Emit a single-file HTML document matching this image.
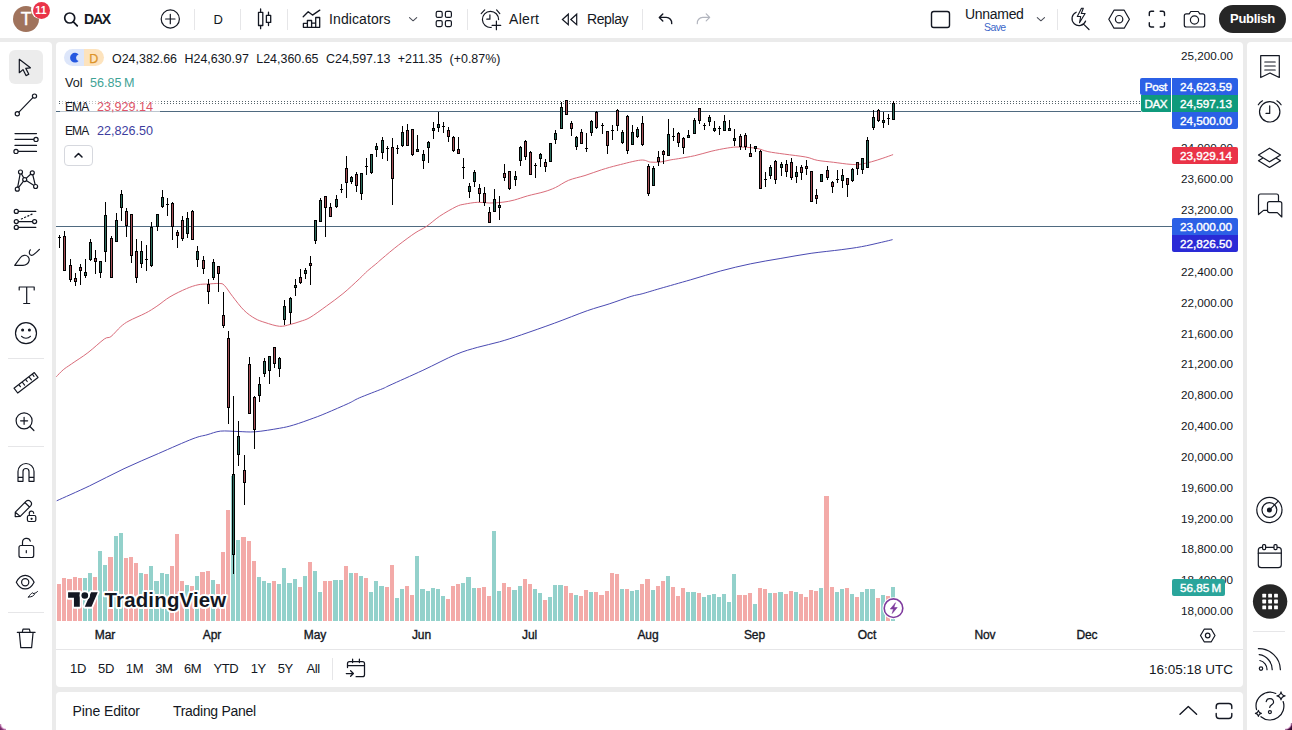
<!DOCTYPE html>
<html lang="en">
<head>
<meta charset="utf-8">
<title>DAX chart</title>
<style>
*{box-sizing:border-box;margin:0;padding:0}
html,body{width:1292px;height:730px;overflow:hidden}
body{background:#ebebeb;font-family:"Liberation Sans",sans-serif;color:#131722;position:relative}
.abs{position:absolute}
.panel{position:absolute;background:#fff}
#topbar{left:0;top:0;width:1292px;height:38px}
#lefttb{left:0;top:42px;width:52px;height:688px;border-top-right-radius:4px}
#chartp{left:56px;top:42px;width:1187px;height:645px;border-radius:4px}
#botp{left:56px;top:692px;width:1187px;height:38px;border-radius:4px 4px 0 0}
#righttb{left:1247px;top:42px;width:45px;height:688px;border-top-left-radius:4px}
svg.chart{position:absolute;left:0;top:0}
.t{position:absolute;white-space:nowrap;line-height:1}
.sep{position:absolute;background:#e6e6e8}
svg.ic{position:absolute;overflow:visible;fill:none;stroke:#131722;stroke-width:1.2;stroke-linecap:round;stroke-linejoin:round}
.pl{position:absolute;color:#fff;font-size:11.7px;height:17px;line-height:17px;text-align:right;padding-right:6px;-webkit-text-stroke:0.4px #fff}
.ps{position:absolute;font-size:11.7px;left:1172px;width:61px;text-align:right;line-height:14px;height:14px;color:#131722}
.tl{position:absolute;font-size:12px;-webkit-text-stroke:0.35px #131722;letter-spacing:-0.1px;top:628px;line-height:14px;color:#131722;transform:translateX(-50%)}
.rg{position:absolute;top:661px;font-size:13px;letter-spacing:-0.4px;line-height:16px;color:#131722;transform:translateX(-50%)}
</style>
</head>
<body>
<div class="panel" id="topbar"></div>
<div class="panel" id="lefttb"></div>
<div class="panel" id="chartp"></div>
<div class="panel" id="botp"></div>
<div class="panel" id="righttb"></div>

<svg class="chart" width="1292" height="730" viewBox="0 0 1292 730">
<g shape-rendering="crispEdges">
<rect x="57" y="584" width="4" height="37" fill="#f3aaa8"/>
<rect x="62" y="578" width="4" height="43" fill="#f3aaa8"/>
<rect x="67" y="579" width="5" height="42" fill="#f3aaa8"/>
<rect x="73" y="577" width="4" height="44" fill="#f3aaa8"/>
<rect x="78" y="578" width="4" height="43" fill="#f3aaa8"/>
<rect x="83" y="578" width="4" height="43" fill="#93d1cb"/>
<rect x="88" y="573" width="4" height="48" fill="#93d1cb"/>
<rect x="93" y="577" width="4" height="44" fill="#f3aaa8"/>
<rect x="98" y="551" width="4" height="70" fill="#93d1cb"/>
<rect x="103" y="565" width="4" height="56" fill="#93d1cb"/>
<rect x="108" y="557" width="5" height="64" fill="#f3aaa8"/>
<rect x="114" y="536" width="4" height="85" fill="#93d1cb"/>
<rect x="119" y="533" width="4" height="88" fill="#93d1cb"/>
<rect x="124" y="558" width="4" height="63" fill="#f3aaa8"/>
<rect x="129" y="557" width="4" height="64" fill="#f3aaa8"/>
<rect x="134" y="563" width="4" height="58" fill="#f3aaa8"/>
<rect x="139" y="573" width="4" height="48" fill="#93d1cb"/>
<rect x="144" y="574" width="4" height="47" fill="#f3aaa8"/>
<rect x="149" y="566" width="4" height="55" fill="#93d1cb"/>
<rect x="154" y="581" width="5" height="40" fill="#93d1cb"/>
<rect x="160" y="573" width="4" height="48" fill="#93d1cb"/>
<rect x="165" y="574" width="4" height="47" fill="#93d1cb"/>
<rect x="170" y="566" width="4" height="55" fill="#f3aaa8"/>
<rect x="175" y="534" width="4" height="87" fill="#f3aaa8"/>
<rect x="180" y="581" width="4" height="40" fill="#f3aaa8"/>
<rect x="185" y="585" width="4" height="36" fill="#93d1cb"/>
<rect x="190" y="586" width="4" height="35" fill="#f3aaa8"/>
<rect x="195" y="576" width="4" height="45" fill="#93d1cb"/>
<rect x="200" y="572" width="5" height="49" fill="#f3aaa8"/>
<rect x="206" y="571" width="4" height="50" fill="#f3aaa8"/>
<rect x="211" y="580" width="4" height="41" fill="#93d1cb"/>
<rect x="216" y="584" width="4" height="37" fill="#f3aaa8"/>
<rect x="221" y="552" width="4" height="69" fill="#f3aaa8"/>
<rect x="226" y="510" width="4" height="111" fill="#f3aaa8"/>
<rect x="231" y="476" width="4" height="145" fill="#93d1cb"/>
<rect x="236" y="540" width="4" height="81" fill="#93d1cb"/>
<rect x="241" y="537" width="5" height="84" fill="#f3aaa8"/>
<rect x="247" y="541" width="4" height="80" fill="#f3aaa8"/>
<rect x="252" y="561" width="4" height="60" fill="#f3aaa8"/>
<rect x="257" y="577" width="4" height="44" fill="#93d1cb"/>
<rect x="262" y="581" width="4" height="40" fill="#93d1cb"/>
<rect x="267" y="583" width="4" height="38" fill="#93d1cb"/>
<rect x="272" y="581" width="4" height="40" fill="#f3aaa8"/>
<rect x="277" y="584" width="4" height="37" fill="#93d1cb"/>
<rect x="282" y="568" width="4" height="53" fill="#93d1cb"/>
<rect x="287" y="583" width="5" height="38" fill="#93d1cb"/>
<rect x="293" y="579" width="4" height="42" fill="#93d1cb"/>
<rect x="298" y="587" width="4" height="34" fill="#f3aaa8"/>
<rect x="303" y="576" width="4" height="45" fill="#93d1cb"/>
<rect x="308" y="562" width="4" height="59" fill="#f3aaa8"/>
<rect x="313" y="571" width="4" height="50" fill="#93d1cb"/>
<rect x="318" y="592" width="4" height="29" fill="#93d1cb"/>
<rect x="323" y="581" width="4" height="40" fill="#f3aaa8"/>
<rect x="328" y="581" width="4" height="40" fill="#f3aaa8"/>
<rect x="333" y="580" width="5" height="41" fill="#93d1cb"/>
<rect x="339" y="580" width="4" height="41" fill="#93d1cb"/>
<rect x="344" y="566" width="4" height="55" fill="#f3aaa8"/>
<rect x="349" y="573" width="4" height="48" fill="#93d1cb"/>
<rect x="354" y="573" width="4" height="48" fill="#f3aaa8"/>
<rect x="359" y="576" width="4" height="45" fill="#93d1cb"/>
<rect x="364" y="578" width="4" height="43" fill="#f3aaa8"/>
<rect x="369" y="592" width="4" height="29" fill="#93d1cb"/>
<rect x="374" y="581" width="4" height="40" fill="#93d1cb"/>
<rect x="379" y="586" width="5" height="35" fill="#93d1cb"/>
<rect x="385" y="587" width="4" height="34" fill="#f3aaa8"/>
<rect x="390" y="565" width="4" height="56" fill="#f3aaa8"/>
<rect x="395" y="598" width="4" height="23" fill="#93d1cb"/>
<rect x="400" y="589" width="4" height="32" fill="#93d1cb"/>
<rect x="405" y="586" width="4" height="35" fill="#f3aaa8"/>
<rect x="410" y="595" width="4" height="26" fill="#f3aaa8"/>
<rect x="415" y="556" width="4" height="65" fill="#93d1cb"/>
<rect x="420" y="589" width="5" height="32" fill="#93d1cb"/>
<rect x="426" y="591" width="4" height="30" fill="#93d1cb"/>
<rect x="431" y="588" width="4" height="33" fill="#93d1cb"/>
<rect x="436" y="589" width="4" height="32" fill="#93d1cb"/>
<rect x="441" y="596" width="4" height="25" fill="#93d1cb"/>
<rect x="446" y="599" width="4" height="22" fill="#f3aaa8"/>
<rect x="451" y="586" width="4" height="35" fill="#f3aaa8"/>
<rect x="456" y="584" width="4" height="37" fill="#f3aaa8"/>
<rect x="461" y="583" width="4" height="38" fill="#93d1cb"/>
<rect x="466" y="577" width="5" height="44" fill="#93d1cb"/>
<rect x="472" y="588" width="4" height="33" fill="#93d1cb"/>
<rect x="477" y="588" width="4" height="33" fill="#f3aaa8"/>
<rect x="482" y="587" width="4" height="34" fill="#f3aaa8"/>
<rect x="487" y="596" width="4" height="25" fill="#f3aaa8"/>
<rect x="492" y="531" width="4" height="90" fill="#93d1cb"/>
<rect x="497" y="591" width="4" height="30" fill="#93d1cb"/>
<rect x="502" y="583" width="4" height="38" fill="#f3aaa8"/>
<rect x="507" y="587" width="4" height="34" fill="#f3aaa8"/>
<rect x="512" y="590" width="5" height="31" fill="#93d1cb"/>
<rect x="518" y="586" width="4" height="35" fill="#93d1cb"/>
<rect x="523" y="579" width="4" height="42" fill="#f3aaa8"/>
<rect x="528" y="584" width="4" height="37" fill="#f3aaa8"/>
<rect x="533" y="589" width="4" height="32" fill="#93d1cb"/>
<rect x="538" y="593" width="4" height="28" fill="#93d1cb"/>
<rect x="543" y="600" width="4" height="21" fill="#f3aaa8"/>
<rect x="548" y="597" width="4" height="24" fill="#93d1cb"/>
<rect x="553" y="585" width="4" height="36" fill="#93d1cb"/>
<rect x="558" y="585" width="5" height="36" fill="#93d1cb"/>
<rect x="564" y="586" width="4" height="35" fill="#f3aaa8"/>
<rect x="569" y="593" width="4" height="28" fill="#f3aaa8"/>
<rect x="574" y="595" width="4" height="26" fill="#93d1cb"/>
<rect x="579" y="596" width="4" height="25" fill="#f3aaa8"/>
<rect x="584" y="590" width="4" height="31" fill="#f3aaa8"/>
<rect x="589" y="592" width="4" height="29" fill="#93d1cb"/>
<rect x="594" y="592" width="4" height="29" fill="#f3aaa8"/>
<rect x="599" y="595" width="5" height="26" fill="#f3aaa8"/>
<rect x="605" y="591" width="4" height="30" fill="#f3aaa8"/>
<rect x="610" y="573" width="4" height="48" fill="#f3aaa8"/>
<rect x="615" y="574" width="4" height="47" fill="#f3aaa8"/>
<rect x="620" y="589" width="4" height="32" fill="#93d1cb"/>
<rect x="625" y="589" width="4" height="32" fill="#f3aaa8"/>
<rect x="630" y="591" width="4" height="30" fill="#93d1cb"/>
<rect x="635" y="590" width="4" height="31" fill="#93d1cb"/>
<rect x="640" y="584" width="4" height="37" fill="#f3aaa8"/>
<rect x="645" y="579" width="5" height="42" fill="#f3aaa8"/>
<rect x="651" y="590" width="4" height="31" fill="#93d1cb"/>
<rect x="656" y="586" width="4" height="35" fill="#f3aaa8"/>
<rect x="661" y="581" width="4" height="40" fill="#f3aaa8"/>
<rect x="666" y="576" width="4" height="45" fill="#93d1cb"/>
<rect x="671" y="587" width="4" height="34" fill="#f3aaa8"/>
<rect x="676" y="596" width="4" height="25" fill="#f3aaa8"/>
<rect x="681" y="588" width="4" height="33" fill="#f3aaa8"/>
<rect x="686" y="592" width="4" height="29" fill="#93d1cb"/>
<rect x="691" y="592" width="5" height="29" fill="#93d1cb"/>
<rect x="697" y="593" width="4" height="28" fill="#f3aaa8"/>
<rect x="702" y="597" width="4" height="24" fill="#93d1cb"/>
<rect x="707" y="595" width="4" height="26" fill="#93d1cb"/>
<rect x="712" y="594" width="4" height="27" fill="#93d1cb"/>
<rect x="717" y="597" width="4" height="24" fill="#93d1cb"/>
<rect x="722" y="594" width="4" height="27" fill="#93d1cb"/>
<rect x="727" y="602" width="4" height="19" fill="#93d1cb"/>
<rect x="732" y="574" width="4" height="47" fill="#93d1cb"/>
<rect x="737" y="595" width="5" height="26" fill="#f3aaa8"/>
<rect x="743" y="595" width="4" height="26" fill="#f3aaa8"/>
<rect x="748" y="593" width="4" height="28" fill="#f3aaa8"/>
<rect x="753" y="604" width="4" height="17" fill="#93d1cb"/>
<rect x="758" y="588" width="4" height="33" fill="#f3aaa8"/>
<rect x="763" y="589" width="4" height="32" fill="#f3aaa8"/>
<rect x="768" y="593" width="4" height="28" fill="#93d1cb"/>
<rect x="773" y="593" width="4" height="28" fill="#f3aaa8"/>
<rect x="778" y="592" width="5" height="29" fill="#93d1cb"/>
<rect x="784" y="594" width="4" height="27" fill="#f3aaa8"/>
<rect x="789" y="591" width="4" height="30" fill="#f3aaa8"/>
<rect x="794" y="592" width="4" height="29" fill="#93d1cb"/>
<rect x="799" y="594" width="4" height="27" fill="#f3aaa8"/>
<rect x="804" y="597" width="4" height="24" fill="#f3aaa8"/>
<rect x="809" y="590" width="4" height="31" fill="#f3aaa8"/>
<rect x="814" y="591" width="4" height="30" fill="#f3aaa8"/>
<rect x="819" y="588" width="4" height="33" fill="#93d1cb"/>
<rect x="824" y="496" width="5" height="125" fill="#f3aaa8"/>
<rect x="830" y="587" width="4" height="34" fill="#f3aaa8"/>
<rect x="835" y="592" width="4" height="29" fill="#93d1cb"/>
<rect x="840" y="589" width="4" height="32" fill="#93d1cb"/>
<rect x="845" y="588" width="4" height="33" fill="#f3aaa8"/>
<rect x="850" y="594" width="4" height="27" fill="#93d1cb"/>
<rect x="855" y="597" width="4" height="24" fill="#f3aaa8"/>
<rect x="860" y="592" width="4" height="29" fill="#93d1cb"/>
<rect x="865" y="589" width="4" height="32" fill="#93d1cb"/>
<rect x="870" y="589" width="5" height="32" fill="#93d1cb"/>
<rect x="876" y="598" width="4" height="23" fill="#f3aaa8"/>
<rect x="881" y="595" width="4" height="26" fill="#93d1cb"/>
<rect x="886" y="596" width="4" height="25" fill="#f3aaa8"/>
<rect x="891" y="587" width="4" height="34" fill="#93d1cb"/>
</g>
<g shape-rendering="crispEdges">
<rect x="56" y="226" width="1116" height="1" fill="#4f6a80"/>
<rect x="56" y="111" width="1085" height="1" fill="#4f6a80"/>
</g>
<path d="M56.5 101.5H1141M56.5 103.5H1141" stroke="#56646b" stroke-width="1" stroke-dasharray="1 2" stroke-dashoffset="1" fill="none" shape-rendering="crispEdges"/>
<path d="M56.7 500.8C62.2 498.3 78.3 491.2 89.5 485.9C100.7 480.5 112.5 474.1 124.0 468.7C135.5 463.3 147.0 458.5 158.5 453.5C170.0 448.5 184.9 441.8 193.0 438.7C201.1 435.6 202.4 436.1 207.0 434.8C211.6 433.5 215.4 431.7 220.6 431.1C225.8 430.6 232.2 431.4 238.0 431.5C243.8 431.6 248.2 432.3 255.1 431.8C262.0 431.3 272.9 429.4 279.3 428.3C285.7 427.2 287.9 426.7 293.6 425.0C299.4 423.3 308.3 420.0 313.8 418.0C319.3 416.0 320.8 415.4 326.5 413.0C332.2 410.6 342.8 406.0 348.3 403.5C353.8 401.0 353.6 400.4 359.3 397.9C365.1 395.4 377.7 390.7 382.8 388.6C387.9 386.5 383.3 388.2 390.0 385.2C396.7 382.1 411.9 375.4 422.9 370.3C433.9 365.2 446.7 358.3 455.8 354.5C464.9 350.7 470.4 349.4 477.7 347.3C485.0 345.2 492.3 343.9 499.6 341.8C506.9 339.7 512.4 337.9 521.5 334.8C530.6 331.7 543.4 327.2 554.4 323.2C565.4 319.2 578.2 313.9 587.3 310.7C596.4 307.5 601.9 306.3 609.2 303.9C616.5 301.5 625.6 298.1 631.1 296.4C636.6 294.7 637.3 295.1 642.1 293.8C646.9 292.5 652.1 290.8 660.1 288.5C668.1 286.2 680.2 282.8 690.3 279.9C700.4 277.0 710.4 273.7 720.5 271.0C730.6 268.3 740.6 265.9 750.7 263.8C760.8 261.7 770.8 260.1 780.9 258.4C791.0 256.6 801.0 254.8 811.1 253.3C821.2 251.9 832.8 250.8 841.2 249.7C849.6 248.6 854.7 247.9 861.4 246.7C868.1 245.5 876.3 243.5 881.5 242.3C886.7 241.1 890.8 240.1 892.6 239.6" fill="none" stroke="#4a4ab2" stroke-width="1"/>
<path d="M56.3 376.8C57.4 375.6 60.7 371.9 63.2 369.8C65.7 367.7 67.3 366.9 71.4 364.0C75.5 361.1 82.4 356.9 87.9 352.7C93.4 348.5 100.5 341.7 104.3 339.0C108.1 336.3 108.2 338.7 110.9 336.6C113.6 334.6 117.7 329.3 120.7 326.7C123.7 324.1 124.9 323.1 129.0 320.9C133.1 318.6 140.8 315.6 145.4 313.2C150.1 310.8 152.8 308.9 156.9 306.2C161.0 303.5 165.1 299.7 170.0 296.8C174.9 293.9 181.8 290.6 186.5 288.6C191.2 286.6 194.4 285.6 198.0 284.8C201.6 284.0 204.2 284.2 207.8 284.0C211.4 283.8 216.6 283.3 219.3 283.5C222.1 283.7 222.1 283.2 224.3 285.3C226.5 287.4 229.2 292.1 232.5 296.3C235.8 300.5 240.2 306.6 244.0 310.3C247.8 314.0 251.5 316.5 255.0 318.5C258.5 320.5 260.9 321.2 265.0 322.5C269.1 323.8 275.4 326.0 279.6 326.3C283.8 326.6 286.6 325.3 290.0 324.5C293.4 323.7 296.7 322.7 300.0 321.5C303.3 320.3 305.6 320.1 310.0 317.5C314.4 314.9 321.0 310.0 326.5 306.0C332.0 302.0 337.4 298.2 342.9 293.7C348.4 289.2 355.2 282.7 359.3 278.9C363.4 275.1 364.6 273.5 367.4 271.0C370.1 268.5 373.3 266.2 375.8 264.1C378.3 262.0 378.4 261.7 382.2 258.5C386.0 255.3 393.1 249.2 398.6 245.0C404.1 240.8 410.4 236.1 415.0 233.0C419.6 229.9 422.4 229.2 426.5 226.4C430.6 223.6 434.8 219.5 439.7 216.2C444.6 212.9 452.0 208.7 456.1 206.7C460.2 204.7 460.7 204.9 464.3 204.2C467.9 203.5 473.3 202.5 477.5 202.3C481.7 202.1 485.5 203.0 489.7 203.0C493.9 203.0 498.8 202.7 502.9 202.2C507.0 201.7 510.3 201.1 514.4 200.0C518.5 198.9 522.6 197.3 527.5 195.9C532.4 194.5 539.3 193.2 544.0 191.8C548.7 190.4 551.4 189.4 555.5 187.5C559.6 185.6 563.7 182.3 568.6 180.3C573.5 178.3 579.5 177.2 585.0 175.5C590.5 173.8 596.0 171.5 601.5 169.8C607.0 168.1 611.4 166.8 617.9 165.2C624.4 163.6 635.3 160.6 640.7 160.1C646.1 159.6 647.3 161.8 650.5 162.1C653.7 162.4 656.8 162.3 660.0 162.0C663.2 161.7 667.0 160.6 670.0 160.0C673.0 159.4 674.2 159.4 678.3 158.7C682.4 158.0 689.2 156.9 694.7 155.7C700.2 154.5 705.6 152.6 711.1 151.3C716.6 150.0 722.9 148.7 727.6 148.0C732.3 147.3 734.3 146.9 739.1 147.0C743.9 147.1 751.6 147.5 756.4 148.3C761.2 149.1 763.2 150.6 767.9 151.6C772.5 152.6 778.0 153.2 784.3 154.1C790.6 155.0 800.2 156.0 805.7 157.0C811.2 158.0 812.6 159.4 817.2 160.3C821.9 161.2 828.1 161.6 833.6 162.3C839.1 163.0 845.6 164.0 850.0 164.3C854.4 164.6 856.3 164.7 859.9 164.3C863.5 163.9 867.6 162.8 871.4 161.8C875.2 160.8 879.3 159.4 882.9 158.2C886.5 157.0 891.4 155.2 893.1 154.6" fill="none" stroke="#d96c7a" stroke-width="1"/>
<g shape-rendering="crispEdges">
<rect x="59" y="235" width="1" height="13" fill="#000"/>
<rect x="58" y="237" width="3" height="1" fill="#000"/>
<rect x="64" y="231" width="1" height="40" fill="#000"/>
<rect x="63" y="236" width="3" height="35" fill="#000"/>
<rect x="64" y="237" width="1" height="33" fill="#a54f57"/>
<rect x="70" y="259" width="1" height="23" fill="#000"/>
<rect x="69" y="265" width="3" height="15" fill="#000"/>
<rect x="70" y="266" width="1" height="13" fill="#a54f57"/>
<rect x="75" y="273" width="1" height="13" fill="#000"/>
<rect x="74" y="278" width="3" height="4" fill="#000"/>
<rect x="75" y="279" width="1" height="2" fill="#a54f57"/>
<rect x="80" y="264" width="1" height="21" fill="#000"/>
<rect x="79" y="267" width="3" height="4" fill="#000"/>
<rect x="80" y="268" width="1" height="2" fill="#a54f57"/>
<rect x="85" y="259" width="1" height="19" fill="#000"/>
<rect x="84" y="272" width="3" height="4" fill="#000"/>
<rect x="85" y="273" width="1" height="2" fill="#2c6c5c"/>
<rect x="90" y="239" width="1" height="22" fill="#000"/>
<rect x="89" y="242" width="3" height="18" fill="#000"/>
<rect x="90" y="243" width="1" height="16" fill="#2c6c5c"/>
<rect x="95" y="250" width="1" height="24" fill="#000"/>
<rect x="94" y="258" width="3" height="4" fill="#000"/>
<rect x="95" y="259" width="1" height="2" fill="#a54f57"/>
<rect x="100" y="261" width="1" height="17" fill="#000"/>
<rect x="99" y="261" width="3" height="12" fill="#000"/>
<rect x="100" y="262" width="1" height="10" fill="#2c6c5c"/>
<rect x="105" y="202" width="1" height="60" fill="#000"/>
<rect x="104" y="215" width="3" height="37" fill="#000"/>
<rect x="105" y="216" width="1" height="35" fill="#2c6c5c"/>
<rect x="111" y="236" width="1" height="42" fill="#000"/>
<rect x="110" y="238" width="3" height="40" fill="#000"/>
<rect x="111" y="239" width="1" height="38" fill="#a54f57"/>
<rect x="116" y="213" width="1" height="29" fill="#000"/>
<rect x="115" y="220" width="3" height="22" fill="#000"/>
<rect x="116" y="221" width="1" height="20" fill="#2c6c5c"/>
<rect x="121" y="190" width="1" height="31" fill="#000"/>
<rect x="120" y="194" width="3" height="14" fill="#000"/>
<rect x="121" y="195" width="1" height="12" fill="#2c6c5c"/>
<rect x="126" y="208" width="1" height="29" fill="#000"/>
<rect x="125" y="211" width="3" height="15" fill="#000"/>
<rect x="126" y="212" width="1" height="13" fill="#a54f57"/>
<rect x="131" y="214" width="1" height="49" fill="#000"/>
<rect x="130" y="214" width="3" height="42" fill="#000"/>
<rect x="131" y="215" width="1" height="40" fill="#a54f57"/>
<rect x="136" y="239" width="1" height="44" fill="#000"/>
<rect x="135" y="251" width="3" height="27" fill="#000"/>
<rect x="136" y="252" width="1" height="25" fill="#a54f57"/>
<rect x="141" y="241" width="1" height="27" fill="#000"/>
<rect x="140" y="251" width="3" height="13" fill="#000"/>
<rect x="141" y="252" width="1" height="11" fill="#2c6c5c"/>
<rect x="146" y="245" width="1" height="26" fill="#000"/>
<rect x="145" y="259" width="3" height="1" fill="#000"/>
<rect x="151" y="222" width="1" height="45" fill="#000"/>
<rect x="150" y="227" width="3" height="39" fill="#000"/>
<rect x="151" y="228" width="1" height="37" fill="#2c6c5c"/>
<rect x="157" y="214" width="1" height="17" fill="#000"/>
<rect x="156" y="214" width="3" height="13" fill="#000"/>
<rect x="157" y="215" width="1" height="11" fill="#2c6c5c"/>
<rect x="162" y="190" width="1" height="18" fill="#000"/>
<rect x="161" y="197" width="3" height="10" fill="#000"/>
<rect x="162" y="198" width="1" height="8" fill="#2c6c5c"/>
<rect x="167" y="198" width="1" height="18" fill="#000"/>
<rect x="166" y="204" width="3" height="1" fill="#000"/>
<rect x="172" y="202" width="1" height="38" fill="#000"/>
<rect x="171" y="203" width="3" height="24" fill="#000"/>
<rect x="172" y="204" width="1" height="22" fill="#a54f57"/>
<rect x="177" y="230" width="1" height="18" fill="#000"/>
<rect x="176" y="232" width="3" height="4" fill="#000"/>
<rect x="177" y="233" width="1" height="2" fill="#a54f57"/>
<rect x="182" y="216" width="1" height="25" fill="#000"/>
<rect x="181" y="220" width="3" height="19" fill="#000"/>
<rect x="182" y="221" width="1" height="17" fill="#a54f57"/>
<rect x="187" y="212" width="1" height="26" fill="#000"/>
<rect x="186" y="218" width="3" height="16" fill="#000"/>
<rect x="187" y="219" width="1" height="14" fill="#2c6c5c"/>
<rect x="192" y="210" width="1" height="30" fill="#000"/>
<rect x="191" y="211" width="3" height="29" fill="#000"/>
<rect x="192" y="212" width="1" height="27" fill="#a54f57"/>
<rect x="197" y="246" width="1" height="21" fill="#000"/>
<rect x="196" y="251" width="3" height="9" fill="#000"/>
<rect x="197" y="252" width="1" height="7" fill="#2c6c5c"/>
<rect x="203" y="256" width="1" height="18" fill="#000"/>
<rect x="202" y="260" width="3" height="9" fill="#000"/>
<rect x="203" y="261" width="1" height="7" fill="#a54f57"/>
<rect x="208" y="279" width="1" height="25" fill="#000"/>
<rect x="207" y="284" width="3" height="8" fill="#000"/>
<rect x="208" y="285" width="1" height="6" fill="#a54f57"/>
<rect x="213" y="259" width="1" height="21" fill="#000"/>
<rect x="212" y="262" width="3" height="16" fill="#000"/>
<rect x="213" y="263" width="1" height="14" fill="#2c6c5c"/>
<rect x="218" y="266" width="1" height="26" fill="#000"/>
<rect x="217" y="266" width="3" height="8" fill="#000"/>
<rect x="218" y="267" width="1" height="6" fill="#a54f57"/>
<rect x="223" y="292" width="1" height="36" fill="#000"/>
<rect x="222" y="315" width="3" height="11" fill="#000"/>
<rect x="223" y="316" width="1" height="9" fill="#a54f57"/>
<rect x="228" y="331" width="1" height="93" fill="#000"/>
<rect x="227" y="338" width="3" height="70" fill="#000"/>
<rect x="228" y="339" width="1" height="68" fill="#a54f57"/>
<rect x="233" y="396" width="1" height="178" fill="#000"/>
<rect x="232" y="474" width="3" height="81" fill="#000"/>
<rect x="233" y="475" width="1" height="79" fill="#2c6c5c"/>
<rect x="238" y="421" width="1" height="45" fill="#000"/>
<rect x="237" y="436" width="3" height="19" fill="#000"/>
<rect x="238" y="437" width="1" height="17" fill="#2c6c5c"/>
<rect x="244" y="455" width="1" height="50" fill="#000"/>
<rect x="243" y="470" width="3" height="13" fill="#000"/>
<rect x="244" y="471" width="1" height="11" fill="#a54f57"/>
<rect x="249" y="357" width="1" height="57" fill="#000"/>
<rect x="248" y="364" width="3" height="50" fill="#000"/>
<rect x="249" y="365" width="1" height="48" fill="#a54f57"/>
<rect x="254" y="396" width="1" height="53" fill="#000"/>
<rect x="253" y="397" width="3" height="33" fill="#000"/>
<rect x="254" y="398" width="1" height="31" fill="#a54f57"/>
<rect x="259" y="377" width="1" height="25" fill="#000"/>
<rect x="258" y="384" width="3" height="12" fill="#000"/>
<rect x="259" y="385" width="1" height="10" fill="#2c6c5c"/>
<rect x="264" y="358" width="1" height="19" fill="#000"/>
<rect x="263" y="361" width="3" height="13" fill="#000"/>
<rect x="264" y="362" width="1" height="11" fill="#2c6c5c"/>
<rect x="269" y="356" width="1" height="28" fill="#000"/>
<rect x="268" y="356" width="3" height="15" fill="#000"/>
<rect x="269" y="357" width="1" height="13" fill="#2c6c5c"/>
<rect x="274" y="347" width="1" height="21" fill="#000"/>
<rect x="273" y="347" width="3" height="17" fill="#000"/>
<rect x="274" y="348" width="1" height="15" fill="#a54f57"/>
<rect x="279" y="357" width="1" height="20" fill="#000"/>
<rect x="278" y="358" width="3" height="11" fill="#000"/>
<rect x="279" y="359" width="1" height="9" fill="#2c6c5c"/>
<rect x="284" y="300" width="1" height="25" fill="#000"/>
<rect x="283" y="306" width="3" height="14" fill="#000"/>
<rect x="284" y="307" width="1" height="12" fill="#2c6c5c"/>
<rect x="290" y="297" width="1" height="27" fill="#000"/>
<rect x="289" y="298" width="3" height="15" fill="#000"/>
<rect x="290" y="299" width="1" height="13" fill="#2c6c5c"/>
<rect x="295" y="279" width="1" height="17" fill="#000"/>
<rect x="294" y="285" width="3" height="3" fill="#000"/>
<rect x="295" y="286" width="1" height="1" fill="#2c6c5c"/>
<rect x="300" y="269" width="1" height="15" fill="#000"/>
<rect x="299" y="277" width="3" height="6" fill="#000"/>
<rect x="300" y="278" width="1" height="4" fill="#a54f57"/>
<rect x="305" y="268" width="1" height="11" fill="#000"/>
<rect x="304" y="270" width="3" height="4" fill="#000"/>
<rect x="305" y="271" width="1" height="2" fill="#2c6c5c"/>
<rect x="310" y="256" width="1" height="29" fill="#000"/>
<rect x="309" y="263" width="3" height="3" fill="#000"/>
<rect x="310" y="264" width="1" height="1" fill="#a54f57"/>
<rect x="315" y="220" width="1" height="24" fill="#000"/>
<rect x="314" y="220" width="3" height="21" fill="#000"/>
<rect x="315" y="221" width="1" height="19" fill="#2c6c5c"/>
<rect x="320" y="198" width="1" height="24" fill="#000"/>
<rect x="319" y="200" width="3" height="22" fill="#000"/>
<rect x="320" y="201" width="1" height="20" fill="#2c6c5c"/>
<rect x="325" y="196" width="1" height="41" fill="#000"/>
<rect x="324" y="196" width="3" height="12" fill="#000"/>
<rect x="325" y="197" width="1" height="10" fill="#a54f57"/>
<rect x="330" y="203" width="1" height="14" fill="#000"/>
<rect x="329" y="207" width="3" height="10" fill="#000"/>
<rect x="330" y="208" width="1" height="8" fill="#a54f57"/>
<rect x="336" y="195" width="1" height="13" fill="#000"/>
<rect x="335" y="199" width="3" height="8" fill="#000"/>
<rect x="336" y="200" width="1" height="6" fill="#2c6c5c"/>
<rect x="341" y="184" width="1" height="9" fill="#000"/>
<rect x="340" y="189" width="3" height="1" fill="#000"/>
<rect x="346" y="156" width="1" height="42" fill="#000"/>
<rect x="345" y="168" width="3" height="15" fill="#000"/>
<rect x="346" y="169" width="1" height="13" fill="#a54f57"/>
<rect x="351" y="176" width="1" height="8" fill="#000"/>
<rect x="350" y="177" width="3" height="5" fill="#000"/>
<rect x="351" y="178" width="1" height="3" fill="#2c6c5c"/>
<rect x="356" y="172" width="1" height="20" fill="#000"/>
<rect x="355" y="174" width="3" height="12" fill="#000"/>
<rect x="356" y="175" width="1" height="10" fill="#a54f57"/>
<rect x="361" y="173" width="1" height="27" fill="#000"/>
<rect x="360" y="173" width="3" height="21" fill="#000"/>
<rect x="361" y="174" width="1" height="19" fill="#2c6c5c"/>
<rect x="366" y="158" width="1" height="17" fill="#000"/>
<rect x="365" y="166" width="3" height="1" fill="#000"/>
<rect x="371" y="154" width="1" height="20" fill="#000"/>
<rect x="370" y="154" width="3" height="19" fill="#000"/>
<rect x="371" y="155" width="1" height="17" fill="#2c6c5c"/>
<rect x="376" y="143" width="1" height="14" fill="#000"/>
<rect x="375" y="146" width="3" height="4" fill="#000"/>
<rect x="376" y="147" width="1" height="2" fill="#2c6c5c"/>
<rect x="382" y="137" width="1" height="22" fill="#000"/>
<rect x="381" y="140" width="3" height="13" fill="#000"/>
<rect x="382" y="141" width="1" height="11" fill="#2c6c5c"/>
<rect x="387" y="146" width="1" height="15" fill="#000"/>
<rect x="386" y="148" width="3" height="1" fill="#000"/>
<rect x="392" y="138" width="1" height="67" fill="#000"/>
<rect x="391" y="147" width="3" height="32" fill="#000"/>
<rect x="392" y="148" width="1" height="30" fill="#a54f57"/>
<rect x="397" y="145" width="1" height="9" fill="#000"/>
<rect x="396" y="148" width="3" height="1" fill="#000"/>
<rect x="402" y="126" width="1" height="21" fill="#000"/>
<rect x="401" y="132" width="3" height="14" fill="#000"/>
<rect x="402" y="133" width="1" height="12" fill="#2c6c5c"/>
<rect x="407" y="124" width="1" height="22" fill="#000"/>
<rect x="406" y="130" width="3" height="16" fill="#000"/>
<rect x="407" y="131" width="1" height="14" fill="#a54f57"/>
<rect x="412" y="129" width="1" height="27" fill="#000"/>
<rect x="411" y="129" width="3" height="26" fill="#000"/>
<rect x="412" y="130" width="1" height="24" fill="#a54f57"/>
<rect x="417" y="135" width="1" height="17" fill="#000"/>
<rect x="416" y="149" width="3" height="3" fill="#000"/>
<rect x="417" y="150" width="1" height="1" fill="#2c6c5c"/>
<rect x="423" y="150" width="1" height="19" fill="#000"/>
<rect x="422" y="154" width="3" height="7" fill="#000"/>
<rect x="423" y="155" width="1" height="5" fill="#2c6c5c"/>
<rect x="428" y="141" width="1" height="22" fill="#000"/>
<rect x="427" y="142" width="3" height="6" fill="#000"/>
<rect x="428" y="143" width="1" height="4" fill="#2c6c5c"/>
<rect x="433" y="122" width="1" height="17" fill="#000"/>
<rect x="432" y="128" width="3" height="3" fill="#000"/>
<rect x="433" y="129" width="1" height="1" fill="#2c6c5c"/>
<rect x="438" y="112" width="1" height="20" fill="#000"/>
<rect x="437" y="124" width="3" height="4" fill="#000"/>
<rect x="438" y="125" width="1" height="2" fill="#2c6c5c"/>
<rect x="443" y="122" width="1" height="11" fill="#000"/>
<rect x="442" y="126" width="3" height="1" fill="#000"/>
<rect x="448" y="127" width="1" height="15" fill="#000"/>
<rect x="447" y="130" width="3" height="7" fill="#000"/>
<rect x="448" y="131" width="1" height="5" fill="#a54f57"/>
<rect x="453" y="136" width="1" height="16" fill="#000"/>
<rect x="452" y="137" width="3" height="14" fill="#000"/>
<rect x="453" y="138" width="1" height="12" fill="#a54f57"/>
<rect x="458" y="137" width="1" height="17" fill="#000"/>
<rect x="457" y="149" width="3" height="5" fill="#000"/>
<rect x="458" y="150" width="1" height="3" fill="#a54f57"/>
<rect x="463" y="158" width="1" height="21" fill="#000"/>
<rect x="462" y="167" width="3" height="1" fill="#000"/>
<rect x="469" y="183" width="1" height="15" fill="#000"/>
<rect x="468" y="186" width="3" height="6" fill="#000"/>
<rect x="469" y="187" width="1" height="4" fill="#2c6c5c"/>
<rect x="474" y="170" width="1" height="17" fill="#000"/>
<rect x="473" y="172" width="3" height="10" fill="#000"/>
<rect x="474" y="173" width="1" height="8" fill="#2c6c5c"/>
<rect x="479" y="184" width="1" height="18" fill="#000"/>
<rect x="478" y="188" width="3" height="6" fill="#000"/>
<rect x="479" y="189" width="1" height="4" fill="#a54f57"/>
<rect x="484" y="187" width="1" height="19" fill="#000"/>
<rect x="483" y="193" width="3" height="10" fill="#000"/>
<rect x="484" y="194" width="1" height="8" fill="#a54f57"/>
<rect x="489" y="207" width="1" height="16" fill="#000"/>
<rect x="488" y="212" width="3" height="11" fill="#000"/>
<rect x="489" y="213" width="1" height="9" fill="#a54f57"/>
<rect x="494" y="189" width="1" height="23" fill="#000"/>
<rect x="493" y="199" width="3" height="13" fill="#000"/>
<rect x="494" y="200" width="1" height="11" fill="#2c6c5c"/>
<rect x="499" y="196" width="1" height="24" fill="#000"/>
<rect x="498" y="205" width="3" height="3" fill="#000"/>
<rect x="499" y="206" width="1" height="1" fill="#2c6c5c"/>
<rect x="504" y="164" width="1" height="17" fill="#000"/>
<rect x="503" y="173" width="3" height="5" fill="#000"/>
<rect x="504" y="174" width="1" height="3" fill="#a54f57"/>
<rect x="509" y="171" width="1" height="19" fill="#000"/>
<rect x="508" y="171" width="3" height="18" fill="#000"/>
<rect x="509" y="172" width="1" height="16" fill="#a54f57"/>
<rect x="515" y="171" width="1" height="15" fill="#000"/>
<rect x="514" y="176" width="3" height="4" fill="#000"/>
<rect x="515" y="177" width="1" height="2" fill="#2c6c5c"/>
<rect x="520" y="146" width="1" height="20" fill="#000"/>
<rect x="519" y="147" width="3" height="14" fill="#000"/>
<rect x="520" y="148" width="1" height="12" fill="#2c6c5c"/>
<rect x="525" y="140" width="1" height="20" fill="#000"/>
<rect x="524" y="141" width="3" height="16" fill="#000"/>
<rect x="525" y="142" width="1" height="14" fill="#a54f57"/>
<rect x="530" y="151" width="1" height="24" fill="#000"/>
<rect x="529" y="152" width="3" height="23" fill="#000"/>
<rect x="530" y="153" width="1" height="21" fill="#a54f57"/>
<rect x="535" y="163" width="1" height="15" fill="#000"/>
<rect x="534" y="165" width="3" height="1" fill="#000"/>
<rect x="540" y="153" width="1" height="14" fill="#000"/>
<rect x="539" y="154" width="3" height="5" fill="#000"/>
<rect x="540" y="155" width="1" height="3" fill="#2c6c5c"/>
<rect x="545" y="159" width="1" height="13" fill="#000"/>
<rect x="544" y="162" width="3" height="5" fill="#000"/>
<rect x="545" y="163" width="1" height="3" fill="#a54f57"/>
<rect x="550" y="143" width="1" height="19" fill="#000"/>
<rect x="549" y="143" width="3" height="19" fill="#000"/>
<rect x="550" y="144" width="1" height="17" fill="#2c6c5c"/>
<rect x="555" y="130" width="1" height="14" fill="#000"/>
<rect x="554" y="133" width="3" height="7" fill="#000"/>
<rect x="555" y="134" width="1" height="5" fill="#2c6c5c"/>
<rect x="561" y="102" width="1" height="27" fill="#000"/>
<rect x="560" y="107" width="3" height="22" fill="#000"/>
<rect x="561" y="108" width="1" height="20" fill="#2c6c5c"/>
<rect x="566" y="100" width="1" height="15" fill="#000"/>
<rect x="565" y="100" width="3" height="15" fill="#000"/>
<rect x="566" y="101" width="1" height="13" fill="#a54f57"/>
<rect x="571" y="121" width="1" height="15" fill="#000"/>
<rect x="570" y="123" width="3" height="6" fill="#000"/>
<rect x="571" y="124" width="1" height="4" fill="#a54f57"/>
<rect x="576" y="136" width="1" height="14" fill="#000"/>
<rect x="575" y="137" width="3" height="10" fill="#000"/>
<rect x="576" y="138" width="1" height="8" fill="#2c6c5c"/>
<rect x="581" y="129" width="1" height="15" fill="#000"/>
<rect x="580" y="132" width="3" height="12" fill="#000"/>
<rect x="581" y="133" width="1" height="10" fill="#a54f57"/>
<rect x="586" y="133" width="1" height="19" fill="#000"/>
<rect x="585" y="148" width="3" height="1" fill="#000"/>
<rect x="591" y="120" width="1" height="16" fill="#000"/>
<rect x="590" y="121" width="3" height="12" fill="#000"/>
<rect x="591" y="122" width="1" height="10" fill="#2c6c5c"/>
<rect x="596" y="111" width="1" height="18" fill="#000"/>
<rect x="595" y="112" width="3" height="16" fill="#000"/>
<rect x="596" y="113" width="1" height="14" fill="#a54f57"/>
<rect x="602" y="123" width="1" height="11" fill="#000"/>
<rect x="601" y="125" width="3" height="1" fill="#000"/>
<rect x="607" y="131" width="1" height="23" fill="#000"/>
<rect x="606" y="131" width="3" height="15" fill="#000"/>
<rect x="607" y="132" width="1" height="13" fill="#a54f57"/>
<rect x="612" y="125" width="1" height="15" fill="#000"/>
<rect x="611" y="130" width="3" height="1" fill="#000"/>
<rect x="617" y="109" width="1" height="22" fill="#000"/>
<rect x="616" y="110" width="3" height="16" fill="#000"/>
<rect x="617" y="111" width="1" height="14" fill="#a54f57"/>
<rect x="622" y="130" width="1" height="14" fill="#000"/>
<rect x="621" y="132" width="3" height="11" fill="#000"/>
<rect x="622" y="133" width="1" height="9" fill="#2c6c5c"/>
<rect x="627" y="115" width="1" height="39" fill="#000"/>
<rect x="626" y="116" width="3" height="35" fill="#000"/>
<rect x="627" y="117" width="1" height="33" fill="#a54f57"/>
<rect x="632" y="125" width="1" height="20" fill="#000"/>
<rect x="631" y="132" width="3" height="13" fill="#000"/>
<rect x="632" y="133" width="1" height="11" fill="#2c6c5c"/>
<rect x="637" y="127" width="1" height="11" fill="#000"/>
<rect x="636" y="129" width="3" height="8" fill="#000"/>
<rect x="637" y="130" width="1" height="6" fill="#2c6c5c"/>
<rect x="642" y="116" width="1" height="30" fill="#000"/>
<rect x="641" y="123" width="3" height="22" fill="#000"/>
<rect x="642" y="124" width="1" height="20" fill="#a54f57"/>
<rect x="648" y="164" width="1" height="32" fill="#000"/>
<rect x="647" y="166" width="3" height="28" fill="#000"/>
<rect x="648" y="167" width="1" height="26" fill="#a54f57"/>
<rect x="653" y="166" width="1" height="20" fill="#000"/>
<rect x="652" y="168" width="3" height="18" fill="#000"/>
<rect x="653" y="169" width="1" height="16" fill="#2c6c5c"/>
<rect x="658" y="151" width="1" height="15" fill="#000"/>
<rect x="657" y="157" width="3" height="5" fill="#000"/>
<rect x="658" y="158" width="1" height="3" fill="#a54f57"/>
<rect x="663" y="150" width="1" height="14" fill="#000"/>
<rect x="662" y="151" width="3" height="4" fill="#000"/>
<rect x="663" y="152" width="1" height="2" fill="#a54f57"/>
<rect x="668" y="119" width="1" height="37" fill="#000"/>
<rect x="667" y="134" width="3" height="22" fill="#000"/>
<rect x="668" y="135" width="1" height="20" fill="#2c6c5c"/>
<rect x="673" y="128" width="1" height="13" fill="#000"/>
<rect x="672" y="136" width="3" height="1" fill="#000"/>
<rect x="678" y="132" width="1" height="15" fill="#000"/>
<rect x="677" y="133" width="3" height="10" fill="#000"/>
<rect x="678" y="134" width="1" height="8" fill="#a54f57"/>
<rect x="683" y="137" width="1" height="17" fill="#000"/>
<rect x="682" y="138" width="3" height="10" fill="#000"/>
<rect x="683" y="139" width="1" height="8" fill="#a54f57"/>
<rect x="688" y="130" width="1" height="8" fill="#000"/>
<rect x="687" y="135" width="3" height="3" fill="#000"/>
<rect x="688" y="136" width="1" height="1" fill="#2c6c5c"/>
<rect x="694" y="118" width="1" height="16" fill="#000"/>
<rect x="693" y="120" width="3" height="14" fill="#000"/>
<rect x="694" y="121" width="1" height="12" fill="#2c6c5c"/>
<rect x="699" y="108" width="1" height="16" fill="#000"/>
<rect x="698" y="108" width="3" height="13" fill="#000"/>
<rect x="699" y="109" width="1" height="11" fill="#a54f57"/>
<rect x="704" y="123" width="1" height="7" fill="#000"/>
<rect x="703" y="125" width="3" height="1" fill="#000"/>
<rect x="709" y="115" width="1" height="11" fill="#000"/>
<rect x="708" y="117" width="3" height="5" fill="#000"/>
<rect x="709" y="118" width="1" height="3" fill="#2c6c5c"/>
<rect x="714" y="121" width="1" height="11" fill="#000"/>
<rect x="713" y="128" width="3" height="3" fill="#000"/>
<rect x="714" y="129" width="1" height="1" fill="#2c6c5c"/>
<rect x="719" y="126" width="1" height="9" fill="#000"/>
<rect x="718" y="128" width="3" height="1" fill="#000"/>
<rect x="724" y="115" width="1" height="16" fill="#000"/>
<rect x="723" y="121" width="3" height="10" fill="#000"/>
<rect x="724" y="122" width="1" height="8" fill="#2c6c5c"/>
<rect x="729" y="120" width="1" height="11" fill="#000"/>
<rect x="728" y="128" width="3" height="3" fill="#000"/>
<rect x="729" y="129" width="1" height="1" fill="#2c6c5c"/>
<rect x="734" y="129" width="1" height="17" fill="#000"/>
<rect x="733" y="138" width="3" height="3" fill="#000"/>
<rect x="734" y="139" width="1" height="1" fill="#2c6c5c"/>
<rect x="740" y="134" width="1" height="16" fill="#000"/>
<rect x="739" y="136" width="3" height="11" fill="#000"/>
<rect x="740" y="137" width="1" height="9" fill="#a54f57"/>
<rect x="745" y="133" width="1" height="17" fill="#000"/>
<rect x="744" y="135" width="3" height="12" fill="#000"/>
<rect x="745" y="136" width="1" height="10" fill="#a54f57"/>
<rect x="750" y="144" width="1" height="13" fill="#000"/>
<rect x="749" y="153" width="3" height="4" fill="#000"/>
<rect x="750" y="154" width="1" height="2" fill="#a54f57"/>
<rect x="755" y="146" width="1" height="6" fill="#000"/>
<rect x="754" y="146" width="3" height="3" fill="#000"/>
<rect x="755" y="147" width="1" height="1" fill="#2c6c5c"/>
<rect x="760" y="150" width="1" height="39" fill="#000"/>
<rect x="759" y="151" width="3" height="38" fill="#000"/>
<rect x="760" y="152" width="1" height="36" fill="#a54f57"/>
<rect x="765" y="172" width="1" height="15" fill="#000"/>
<rect x="764" y="179" width="3" height="1" fill="#000"/>
<rect x="770" y="165" width="1" height="14" fill="#000"/>
<rect x="769" y="167" width="3" height="9" fill="#000"/>
<rect x="770" y="168" width="1" height="7" fill="#2c6c5c"/>
<rect x="775" y="160" width="1" height="24" fill="#000"/>
<rect x="774" y="161" width="3" height="19" fill="#000"/>
<rect x="775" y="162" width="1" height="17" fill="#a54f57"/>
<rect x="781" y="162" width="1" height="14" fill="#000"/>
<rect x="780" y="164" width="3" height="4" fill="#000"/>
<rect x="781" y="165" width="1" height="2" fill="#2c6c5c"/>
<rect x="786" y="160" width="1" height="17" fill="#000"/>
<rect x="785" y="164" width="3" height="8" fill="#000"/>
<rect x="786" y="165" width="1" height="6" fill="#a54f57"/>
<rect x="791" y="158" width="1" height="22" fill="#000"/>
<rect x="790" y="162" width="3" height="16" fill="#000"/>
<rect x="791" y="163" width="1" height="14" fill="#a54f57"/>
<rect x="796" y="166" width="1" height="17" fill="#000"/>
<rect x="795" y="172" width="3" height="5" fill="#000"/>
<rect x="796" y="173" width="1" height="3" fill="#2c6c5c"/>
<rect x="801" y="165" width="1" height="15" fill="#000"/>
<rect x="800" y="167" width="3" height="6" fill="#000"/>
<rect x="801" y="168" width="1" height="4" fill="#a54f57"/>
<rect x="806" y="160" width="1" height="15" fill="#000"/>
<rect x="805" y="166" width="3" height="3" fill="#000"/>
<rect x="806" y="167" width="1" height="1" fill="#a54f57"/>
<rect x="811" y="171" width="1" height="31" fill="#000"/>
<rect x="810" y="171" width="3" height="31" fill="#000"/>
<rect x="811" y="172" width="1" height="29" fill="#a54f57"/>
<rect x="816" y="189" width="1" height="15" fill="#000"/>
<rect x="815" y="195" width="3" height="4" fill="#000"/>
<rect x="816" y="196" width="1" height="2" fill="#a54f57"/>
<rect x="821" y="174" width="1" height="8" fill="#000"/>
<rect x="820" y="174" width="3" height="8" fill="#000"/>
<rect x="821" y="175" width="1" height="6" fill="#2c6c5c"/>
<rect x="827" y="166" width="1" height="14" fill="#000"/>
<rect x="826" y="170" width="3" height="8" fill="#000"/>
<rect x="827" y="171" width="1" height="6" fill="#a54f57"/>
<rect x="832" y="181" width="1" height="12" fill="#000"/>
<rect x="831" y="182" width="3" height="5" fill="#000"/>
<rect x="832" y="183" width="1" height="3" fill="#a54f57"/>
<rect x="837" y="170" width="1" height="13" fill="#000"/>
<rect x="836" y="179" width="3" height="1" fill="#000"/>
<rect x="842" y="169" width="1" height="19" fill="#000"/>
<rect x="841" y="175" width="3" height="6" fill="#000"/>
<rect x="842" y="176" width="1" height="4" fill="#2c6c5c"/>
<rect x="847" y="178" width="1" height="19" fill="#000"/>
<rect x="846" y="178" width="3" height="7" fill="#000"/>
<rect x="847" y="179" width="1" height="5" fill="#a54f57"/>
<rect x="852" y="168" width="1" height="14" fill="#000"/>
<rect x="851" y="169" width="3" height="12" fill="#000"/>
<rect x="852" y="170" width="1" height="10" fill="#2c6c5c"/>
<rect x="857" y="162" width="1" height="13" fill="#000"/>
<rect x="856" y="162" width="3" height="7" fill="#000"/>
<rect x="857" y="163" width="1" height="5" fill="#a54f57"/>
<rect x="862" y="158" width="1" height="16" fill="#000"/>
<rect x="861" y="158" width="3" height="12" fill="#000"/>
<rect x="862" y="159" width="1" height="10" fill="#2c6c5c"/>
<rect x="867" y="137" width="1" height="31" fill="#000"/>
<rect x="866" y="140" width="3" height="28" fill="#000"/>
<rect x="867" y="141" width="1" height="26" fill="#2c6c5c"/>
<rect x="873" y="110" width="1" height="20" fill="#000"/>
<rect x="872" y="117" width="3" height="11" fill="#000"/>
<rect x="873" y="118" width="1" height="9" fill="#2c6c5c"/>
<rect x="878" y="109" width="1" height="13" fill="#000"/>
<rect x="877" y="110" width="3" height="11" fill="#000"/>
<rect x="878" y="111" width="1" height="9" fill="#a54f57"/>
<rect x="883" y="112" width="1" height="16" fill="#000"/>
<rect x="882" y="120" width="3" height="3" fill="#000"/>
<rect x="883" y="121" width="1" height="1" fill="#2c6c5c"/>
<rect x="888" y="114" width="1" height="11" fill="#000"/>
<rect x="887" y="118" width="3" height="1" fill="#000"/>
<rect x="893" y="101" width="1" height="19" fill="#000"/>
<rect x="892" y="103" width="3" height="17" fill="#000"/>
<rect x="893" y="104" width="1" height="15" fill="#2c6c5c"/>
</g>
</svg>

<!-- price scale ticks -->
<div class="ps" style="top:48.9px">25,200.00</div>
<div class="ps" style="top:141.4px">24,000.00</div>
<div class="ps" style="top:172.3px">23,600.00</div>
<div class="ps" style="top:203.1px">23,200.00</div>
<div class="ps" style="top:233.9px">22,800.00</div>
<div class="ps" style="top:264.8px">22,400.00</div>
<div class="ps" style="top:295.6px">22,000.00</div>
<div class="ps" style="top:326.5px">21,600.00</div>
<div class="ps" style="top:357.3px">21,200.00</div>
<div class="ps" style="top:388.1px">20,800.00</div>
<div class="ps" style="top:419.0px">20,400.00</div>
<div class="ps" style="top:449.8px">20,000.00</div>
<div class="ps" style="top:480.7px">19,600.00</div>
<div class="ps" style="top:511.5px">19,200.00</div>
<div class="ps" style="top:542.3px">18,800.00</div>
<div class="ps" style="top:573.2px">18,400.00</div>
<div class="ps" style="top:604.0px">18,000.00</div>

<!-- price labels -->
<div class="pl" style="left:1140px;top:78px;width:31px;background:#2b60e6;border-radius:2px 0 0 2px;padding-right:4px;letter-spacing:-0.3px">Post</div>
<div class="pl" style="left:1172px;top:78px;width:66px;background:#2b60e6;border-radius:0 2px 0 0">24,623.59</div>
<div class="pl" style="left:1141px;top:95px;width:30px;background:#0f9a7c;border-radius:0 0 0 2px;padding-right:4px;letter-spacing:-0.5px">DAX</div>
<div class="pl" style="left:1172px;top:95px;width:66px;background:#0f9a7c">24,597.13</div>
<div class="pl" style="left:1172px;top:112px;width:66px;background:#2b60e6;border-radius:0 0 2px 2px">24,500.00</div>
<div class="pl" style="left:1172px;top:147px;width:66px;background:#ea3347;border-radius:2px">23,929.14</div>
<div class="pl" style="left:1172px;top:218px;width:66px;background:#2b60e6;border-radius:2px 2px 0 0">23,000.00</div>
<div class="pl" style="left:1172px;top:235px;width:66px;background:#2a2ad6;border-radius:0 0 2px 2px">22,826.50</div>
<div class="pl" style="left:1172px;top:579px;width:53px;background:#2aa59b;border-radius:2px;text-align:left;padding:0 0 0 8px">56.85&#8201;M</div>

<!-- time axis -->
<div class="tl" style="left:105.0px">Mar</div>
<div class="tl" style="left:212.0px">Apr</div>
<div class="tl" style="left:315.0px">May</div>
<div class="tl" style="left:421.5px">Jun</div>
<div class="tl" style="left:529.5px">Jul</div>
<div class="tl" style="left:648.0px">Aug</div>
<div class="tl" style="left:754.5px">Sep</div>
<div class="tl" style="left:867.0px">Oct</div>
<div class="tl" style="left:985.0px">Nov</div>
<div class="tl" style="left:1087.0px">Dec</div>
<div class="sep" style="left:56px;top:649px;width:1187px;height:1px"></div>

<!-- range bar -->
<div class="rg" style="left:78.0px">1D</div>
<div class="rg" style="left:106.0px">5D</div>
<div class="rg" style="left:134.5px">1M</div>
<div class="rg" style="left:163.8px">3M</div>
<div class="rg" style="left:192.6px">6M</div>
<div class="rg" style="left:225.8px">YTD</div>
<div class="rg" style="left:258.3px">1Y</div>
<div class="rg" style="left:285.2px">5Y</div>
<div class="rg" style="left:313.0px">All</div>
<div class="sep" style="left:332px;top:658px;width:1px;height:22px"></div>
<div class="t" style="left:1149px;top:662px;font-size:13.5px;line-height:16px">16:05:18 UTC</div>

<!-- bottom panel -->
<div class="t" style="left:72.5px;top:703px;font-size:14px;line-height:17px;letter-spacing:-0.1px">Pine Editor</div>
<div class="t" style="left:173px;top:703px;font-size:14px;line-height:17px;letter-spacing:-0.3px">Trading Panel</div>

<!-- legend -->
<div class="abs" style="left:64px;top:49.400px;width:39.500px;height:17px;border-radius:9px;background:linear-gradient(90deg,#dde6fa 0,#dde6fa 19.600px,#fde3bd 19.600px,#fde3bd 100%)"></div>
<svg class="abs" style="left:69px;top:51.600px" width="11" height="12" viewBox="0 0 11 12"><path d="M9.623 2.401A4.9 4.9 0 1 0 9.623 8.999A3.4 3.4 0 0 1 9.623 2.401Z" fill="#2457e0"/></svg>
<div class="t" style="left:89.300px;top:51.500px;font-size:12.500px;line-height:14px;color:#dc9328;-webkit-text-stroke:0.250px #dc9328">D</div>
<div class="t" id="ohlc" style="left:112px;top:52px;font-size:12.45px;line-height:14px;word-spacing:4px"><span>O</span>24,382.66 <span>H</span>24,630.97 <span>L</span>24,360.65 <span>C</span>24,597.13 +211.35 (+0.87%)</div>
<div class="t" style="left:65px;top:76px;font-size:12.6px;line-height:14px">Vol</div>
<div class="t" style="left:90px;top:76px;font-size:12.6px;line-height:14px;color:#3fa396">56.85&#8201;M</div>
<div class="abs" style="left:60px;top:97px;width:99.500px;height:20px;background:rgba(255,255,255,0.620)"></div>
<div class="t" style="left:65px;top:100px;font-size:12px;line-height:14px;letter-spacing:-0.9px">EMA</div>
<div class="t" style="left:97px;top:100px;font-size:12.6px;line-height:14px;color:#de5468">23,929.14</div>
<div class="t" style="left:65px;top:124px;font-size:12px;line-height:14px;letter-spacing:-0.9px">EMA</div>
<div class="t" style="left:97px;top:124px;font-size:12.6px;line-height:14px;color:#3d3d9e">22,826.50</div>
<div class="abs" style="left:64px;top:145px;width:29px;height:21px;border:1px solid #d6d8de;border-radius:4px;background:#fff"></div>
<svg class="ic" style="left:73px;top:151px;stroke-width:1.5" width="11" height="8" viewBox="0 0 11 8"><path d="M2 6l3.5-3.5L9 6"/></svg>

<!-- ICONS -->
<!-- ===== TOP BAR ===== -->
<div class="abs" style="left:13px;top:6px;width:26px;height:26px;border-radius:50%;background:#a0735c;color:#fff;font-size:17.5px;line-height:27px;text-align:center;-webkit-text-stroke:0.4px #fff">T</div>
<div class="abs" style="left:31px;top:0px;width:19px;height:19px;border-radius:50%;background:#fff"></div>
<div class="abs" style="left:32.5px;top:1.5px;width:17px;height:17px;border-radius:50%;background:#ea3448;color:#fff;font-size:10.5px;line-height:17px;text-align:center;letter-spacing:0.2px;font-weight:bold">11</div>
<svg class="ic" style="left:0;top:0;stroke-width:1.7" width="100" height="38"><circle cx="69.7" cy="18" r="5"/><path d="M73.4 21.8L77.3 25.8"/></svg>
<div class="t" style="left:84px;top:11px;font-size:14px;line-height:17px;font-weight:bold;letter-spacing:-1.2px">DAX</div>
<svg class="ic" style="left:0;top:0" width="300" height="38"><circle cx="170.3" cy="19" r="9.1"/><path d="M170.3 14.3v9.4M165.6 19h9.4"/>
<path d="M258.5 12.300h4.300v13.200h-4.300zM260.600 9v3.300M260.600 25.500v3.200M266.400 15.400h4.300v7h-4.300zM268.500 12.200v3.200M268.500 22.400v3.200" stroke-width="1.300"/></svg>
<div class="sep" style="left:194px;top:9px;width:1px;height:21px"></div>
<div class="t" style="left:213.5px;top:11px;font-size:13px;line-height:17px">D</div>
<div class="sep" style="left:240px;top:9px;width:1px;height:21px"></div>
<div class="sep" style="left:287px;top:9px;width:1px;height:21px"></div>
<svg class="ic" style="left:0;top:0" width="700" height="38">
<path d="M303.200 16.700l5-5 4.300 3.400 7.300-5" stroke-width="1.300"/>
<path d="M303.400 27.300v-3.900h4v-2.900h4.200v2.700h4.100v-5.700h4v9.800zM307.400 23.400v3.900M311.600 23.200v4.100M315.700 23.200v4.100" stroke-width="1.300"/>
<path d="M409.500 17.700l3.600 3.100 3.600-3.100" stroke-width="1.100" stroke="#4a4d57"/>
<rect x="436.200" y="11.400" width="6" height="6" rx="1.500"/><rect x="445.400" y="11.400" width="6" height="6" rx="1.500"/><rect x="436.200" y="20.600" width="6" height="6" rx="1.500"/><rect x="445.400" y="20.600" width="6" height="6" rx="1.500"/>
<path d="M491.200 27.470A8.100 8.100 0 1 1 498.600 19.600"/>
<path d="M489.900 14.800V19.200H486.800"/>
<path d="M481.200 13.600L484.700 9.900M496.600 9.900L499.800 13.600"/>
<path d="M496.400 21.100V29.700M492.100 25.400H500.700"/>
<path d="M568.300 14.200V24.700L562.400 19.450zM576.700 14.200V24.700L570.800 19.450z" stroke-linejoin="miter"/>
<path d="M662.8 13.9l-3.5 3.5 3.5 3.5M659.6 17.4h6.6a5.5 5.5 0 0 1 5.5 6.2" stroke-width="1.4"/>
<path d="M706.2 13.9l3.5 3.5-3.5 3.5M709.4 17.4h-6.6a5.5 5.5 0 0 0-5.5 6.2" stroke="#b2b5be" stroke-width="1.2"/>
</svg>
<div class="t" style="left:329px;top:11px;font-size:14px;line-height:17px;letter-spacing:0.1px">Indicators</div>
<div class="sep" style="left:467px;top:9px;width:1px;height:21px"></div>
<div class="t" style="left:509px;top:11px;font-size:14px;line-height:17px;letter-spacing:0.3px">Alert</div>
<div class="t" style="left:587px;top:11px;font-size:14px;line-height:17px;letter-spacing:-0.4px">Replay</div>
<div class="sep" style="left:642px;top:9px;width:1px;height:21px"></div>

<svg class="ic" style="left:900px;top:0" width="392" height="38" viewBox="900 0 392 38">
<rect x="931.5" y="11.5" width="18" height="16" rx="2.2" stroke-width="1.4"/>
<path d="M1037.300 17.700l3.600 3.100 3.600-3.100" stroke-width="1.100" stroke="#4a4d57"/>
<path d="M1083.8 24.3l5.2 5.2M1076.2 12.2A7 7 0 1 0 1085.6 21"/>
<path d="M1081.5 8.3l-4.2 8.2h3.4l-1.2 6.3 5.6-9.3h-3.8l2-5.2z" stroke-width="1.1"/>
<path d="M1114 10.2h10.2l5.2 9-5.2 9H1114l-5.2-9z"/><circle cx="1119.1" cy="19.2" r="3.7"/>
<path d="M1149.3 15.6v-2.3a2 2 0 0 1 2-2h2.3M1160.2 11.3h2.3a2 2 0 0 1 2 2v2.3M1164.5 22.7v2.3a2 2 0 0 1-2 2h-2.3M1153.6 27h-2.3a2 2 0 0 1-2-2v-2.3" stroke-width="1.4"/>
<path d="M1186.3 13.8h2.9l1.6-2.3h7.4l1.6 2.3h2.9a2 2 0 0 1 2 2v9.2a2 2 0 0 1-2 2h-16.4a2 2 0 0 1-2-2v-9.2a2 2 0 0 1 2-2z"/><circle cx="1194.5" cy="20" r="4.1"/>
</svg>
<div class="t" style="left:965px;top:6px;font-size:14px;line-height:17px;letter-spacing:-0.3px">Unnamed</div>
<div class="t" style="left:984px;top:21px;font-size:10.5px;line-height:12px;letter-spacing:-0.6px;color:#3b66c9">Save</div>
<div class="sep" style="left:1057px;top:9px;width:1px;height:21px"></div>
<div class="abs" style="left:1219px;top:5px;width:67px;height:28px;border-radius:14px;background:#262626;color:#fff;font-size:13px;line-height:28px;text-align:center;font-weight:bold;letter-spacing:-0.3px">Publish</div>
<!-- ===== LEFT TOOLBAR ===== -->
<div class="abs" style="left:9px;top:50px;width:34px;height:34px;border-radius:6px;background:#ececec"></div>
<svg class="ic" style="left:0;top:42px" width="52" height="688" viewBox="0 42 52 688">
<path d="M19.3 59.3v13.4l3.7-3.1 3 6 2.8-1.4-3-5.8 4.6-0.6z"/>
<circle cx="17.3" cy="113.8" r="2.1"/><circle cx="34.5" cy="96.1" r="2.1"/><path d="M18.9 112.2L32.9 97.7"/>
<path d="M15 133.6h21.5M15 139.4h19M15 145.4h21.5M18.2 151.4h18.3"/><circle cx="36" cy="139.4" r="2.1" fill="#fff"/><circle cx="16" cy="151.4" r="2.1" fill="#fff"/>
<path d="M17.3 189.2L20.5 172l4.2 7.6 7.6-6.8 3.3 13.7-10.9-6.9-7.4 9.6"/><circle cx="20.5" cy="172" r="2" fill="#fff"/><circle cx="32.3" cy="172.8" r="2" fill="#fff"/><circle cx="24.7" cy="179.6" r="2" fill="#fff"/><circle cx="17.3" cy="189.2" r="2" fill="#fff"/><circle cx="35.6" cy="186.5" r="2" fill="#fff"/>
<path d="M18.400 211.400h17.400M18.400 221.600h14.100M18.400 227.400h17.400"/><path d="M21.400 219l12.300-5.600" stroke-dasharray="1.200 2.300"/><circle cx="16.300" cy="211.400" r="2.050"/><circle cx="16.300" cy="221.600" r="2.050"/><circle cx="34.600" cy="221.600" r="2.050"/><circle cx="16.300" cy="227.400" r="2.050"/>
<path d="M14.700 265.300L20.500 257.500C22.500 254.800 26 254.600 28 256.600C30 258.800 29.600 262 27 264C25.800 264.900 24.600 265.300 23 265.300Z"/><path d="M30.300 249.800C28.600 252 29.200 255 31.600 255.400C33.200 255.600 34.400 254.600 39.400 249.400"/>
<path d="M19.200 290v-3h15v3M26.700 287v16.500M23.700 303.500h6"/>
<circle cx="26" cy="333.200" r="10.500"/><circle cx="22.600" cy="330" r="0.900" fill="#131722"/><circle cx="29.400" cy="330" r="0.900" fill="#131722"/><path d="M21.600 336.300c2.400 2.600 6.400 2.600 8.800 0"/>
<path d="M14 388.200L34.300 372.600l3.700 4.800L17.700 393zM18.800 384.600l1.600 2.100M22.200 382l2.400 3.100M25.600 379.400l1.600 2.100M29 376.800l2.400 3.100M32.400 374.200l1.600 2.100"/>
<circle cx="24.100" cy="420.800" r="8"/><path d="M29.900 426.500l4 4M24.100 417.300v7M20.600 420.800h7"/>
<path d="M18 481.300v-9.800a8 8 0 0 1 16 0v9.800h-5v-9.800a3 3 0 0 0-6 0v9.800zM18 477.300h5M29 477.300h5"/>
<path d="M15.200 516.600L15.300 512.200L25.900 501.400a3.300 3.300 0 0 1 4.800 4.500L20.200 516.400zM15.300 512.200L20.200 516.400M24.900 502.500l4.600 4.500"/>
<rect x="27.400" y="515.500" width="8.400" height="6" rx="1.400" fill="#fff"/><path d="M29.300 515.500v-2a2.200 2.200 0 0 1 4.400-0.500v0.300"/><circle cx="31.600" cy="518.800" r="0.500" fill="#131722"/>
<rect x="19" y="545.500" width="14.700" height="12" rx="2"/><path d="M22.500 545.500v-3.200a4 4 0 0 1 7.800-1.200M26.300 550.500v2.200"/>
<path d="M16.300 582.200c4.700-9 13.100-9 17.800 0-4.700 9-13.100 9-17.800 0z"/><circle cx="25.200" cy="582.200" r="3.600"/>
<path d="M28.500 597c1.300-2.200 2.700-3.600 4.300-4.200l1.600 1.500c-0.700 1.600-2.700 2.800-5.900 2.700zM34.200 593.400c1.300-0.200 2.400-0.900 3.300-1.900" stroke-width="1"/>
<path d="M17.300 632.300h17.800M22.200 632.300l0.800-3.200h6.400l0.800 3.200M19.300 632.300l1.500 15.400h10.800l1.500-15.400"/>
</svg>
<div class="sep" style="left:8px;top:358px;width:36px;height:1px"></div>
<div class="sep" style="left:8px;top:446px;width:36px;height:1px"></div>
<div class="sep" style="left:8px;top:612px;width:36px;height:1px"></div>

<!-- ===== RIGHT TOOLBAR ===== -->
<svg class="ic" style="left:1247px;top:42px" width="45" height="688" viewBox="1247 42 45 688">
<path d="M1260.700 55.600h18.600v21.900l-9.300-4.500-9.300 4.500zM1264.800 62h10.400M1264.800 66h10.400M1264.800 70h10.400"/>
<circle cx="1269.700" cy="111.800" r="10.200"/><path d="M1269.700 105.800v7.600h-3.700M1258.300 104.800a12 12 0 0 1 4.200-4M1276.900 100.800a12 12 0 0 1 4.200 4"/>
<path d="M1269.500 148.200l11 6.800-11 6.800-11-6.800zM1262.500 158.200l-4 2.500 11 6.800 11-6.800-4-2.500"/>
<path d="M1267.500 210.400h-4l-5 4.100v-18.500a2 2 0 0 1 2-2h16a2 2 0 0 1 2 2v5.600"/>
<path d="M1267.500 203.600a2 2 0 0 1 2-2h10.300a2 2 0 0 1 2 2v13.400l-4.500-4.400h-7.800a2 2 0 0 1-2-2z" fill="#fff"/>
<circle cx="1269.400" cy="510" r="12.600"/><circle cx="1269.400" cy="510" r="7.400"/><circle cx="1269.400" cy="510" r="1.900" fill="#131722"/><path d="M1270.500 508.800l7.700-7.700"/>
<rect x="1258.300" y="547.300" width="23" height="20.400" rx="3"/><path d="M1258.300 553.200h23"/><rect x="1262.600" y="544.600" width="3" height="5" rx="1" fill="#fff"/><rect x="1274" y="544.600" width="3" height="5" rx="1" fill="#fff"/>
<circle cx="1270.100" cy="601.500" r="17.200" fill="#262626" stroke="none"/>
<g fill="#fff" stroke="none" transform="translate(0 -0.300)"><rect x="1262.300" y="594" width="3.800" height="3.800" rx="0.600"/><rect x="1268.200" y="594" width="3.800" height="3.800" rx="0.600"/><rect x="1274.100" y="594" width="3.800" height="3.800" rx="0.600"/><rect x="1262.300" y="599.900" width="3.800" height="3.800" rx="0.600"/><rect x="1268.200" y="599.900" width="3.800" height="3.800" rx="0.600"/><rect x="1274.100" y="599.900" width="3.800" height="3.800" rx="0.600"/><rect x="1262.300" y="605.800" width="3.800" height="3.800" rx="0.600"/><rect x="1268.200" y="605.800" width="3.800" height="3.800" rx="0.600"/><rect x="1274.100" y="605.800" width="3.800" height="3.800" rx="0.600"/></g>
<g transform="translate(0 1.300)"><circle cx="1261" cy="667.300" r="1.700"/><path d="M1259.800 659.200a9 9 0 0 1 7.200 9.200M1259.200 653.400a15 15 0 0 1 13 15M1258.400 647.400a21.500 21.500 0 0 1 22 21"/></g>
<path d="M1283.140 701.570A13.900 13.900 0 0 1 1260.970 716.670M1256.560 709.630A13.900 13.900 0 0 1 1275.770 693.450"/>
<path d="M1266.200 701.600A3.750 3.750 0 0 1 1273.600 702.200C1273.600 704.600 1269.700 705 1269.700 707.400"/><circle cx="1269.900" cy="712.100" r="1.500"/>
<path d="M1281 691.800q0.600 3.500 4.100 4.100q-3.500 0.600-4.100 4.100q-0.600-3.500-4.100-4.100q3.500-0.600 4.100-4.100zM1258.400 710.400q0.450 2.550 3 3q-2.550 0.450-3 3q-0.450-2.550-3-3q2.550-0.450 3-3z" stroke-width="1.100"/>
</svg>
<div class="sep" style="left:1253px;top:631px;width:32px;height:1px"></div>

<!-- ===== BOTTOM / CHART OVERLAY ICONS ===== -->
<svg class="ic" style="left:0;top:580px" width="1292" height="150" viewBox="0 580 1292 150">
<path d="M1200.500 635.500l3.700-6.300h7.100l3.700 6.300-3.700 6.300h-7.100z"/><circle cx="1207.700" cy="635.500" r="2.300"/>
<path d="M347.500 667.500v-4a2 2 0 0 1 2-2h13a2 2 0 0 1 2 2v11.200a2 2 0 0 1-2 2h-6.400M347.500 665.500h17M352.600 659.200v3.300M359.400 659.200v3.300M346.300 673.500h7M350.600 670.700l2.800 2.800-2.800 2.800" stroke-width="1.250"/>
<path d="M1180 714.200l8.300-7.600 8.300 7.600" stroke-width="1.400"/>
<path d="M1216.200 708.500v-2a3 3 0 0 1 3-3h9.600a3 3 0 0 1 3 3v2M1231.800 713.500v2a3 3 0 0 1-3 3h-9.600a3 3 0 0 1-3-3v-2" stroke-width="1.400"/>
<circle cx="893.500" cy="608.200" r="11" fill="#fff" stroke="none"/><circle cx="893.500" cy="608.200" r="9.300" fill="#fff" stroke="#7e3a9e" stroke-width="1.600"/>
<path d="M895.300 603l-5 6h3.200l-1.300 4.500 5-6h-3.200z" fill="#7e3a9e" stroke="#7e3a9e" stroke-width="0.600"/>
<g stroke="#fff" stroke-width="4.500" fill="#131722" paint-order="stroke" stroke-linejoin="round">
<g transform="translate(68.100 588.900) scale(0.835 0.815)"><path d="M14 22H7V11H0V4h14v18zM28 22h-8l7.500-18h8L28 22z"/><circle cx="20" cy="8" r="4"/></g>
<text x="104.500" y="606.600" font-family="Liberation Sans, sans-serif" font-weight="bold" font-size="20.400" letter-spacing="0.200" stroke-width="4">TradingView</text>
</g>
</svg>

<div class="abs" style="right:0;bottom:0;width:7px;height:7px;background:radial-gradient(circle at 0 0, rgba(255,255,255,0) 5.2px, #e6b8dc 6px, #4a1045 7.3px, #2a0626 9px)"></div>
<div class="abs" style="left:0;bottom:0;width:6px;height:6px;background:radial-gradient(circle at 100% 0, rgba(255,255,255,0) 4.2px, #e3b5da 5px, #8a3a7a 6.3px, #6a2060 8px)"></div>
</body>
</html>
